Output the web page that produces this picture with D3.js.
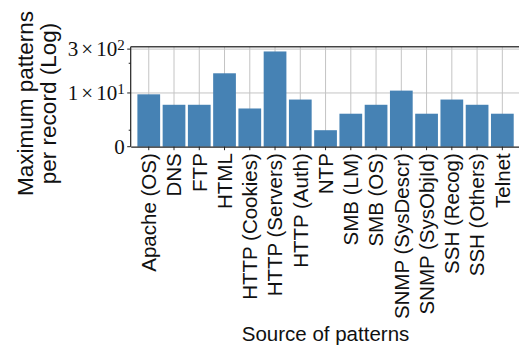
<!DOCTYPE html>
<html>
<head>
<meta charset="utf-8">
<script src="https://cdn.jsdelivr.net/npm/d3@7"></script>
<style>
  body { margin: 0; background: #fff; }
  svg { display: block; }
</style>
</head>
<body>
<svg id="chart" width="519" height="347"></svg>
<script>
// Data
const categories = [
    "Apache (OS)", "DNS", "FTP", "HTML", "HTTP (Cookies)", "HTTP (Servers)",
    "HTTP (Auth)", "NTP", "SMB (LM)", "SMB (OS)", "SNMP (SysDescr)",
    "SNMP (SysObjId)", "SSH (Recog)", "SSH (Others)", "Telnet"
];
const maxPatterns = [9, 4, 4, 46, 3, 250, 6, 1, 2, 4, 12, 2, 6, 4, 2];
const yMajorTicks = [0, 10, 300];
const yTickMantissa = ["0", "1", "3"];
const yTickExponent = [null, "1", "2"];
const yMinorTicks = [1, 100];

// matplotlib-style symlog (linthresh 2, linscale 1)
const linthresh = 2, linscaleAdj = 1 / (1 - 1 / 10);
function symlog(v) {
    return v <= linthresh ? v * linscaleAdj
        : linthresh * (linscaleAdj + Math.log10(v / linthresh));
}

const svg = d3.select("#chart"),
      plot = {left: 130.7, right: 520.4, top: 46.7, bottom: 146.7},
      sans = "'Liberation Sans', Arial, sans-serif",
      serif = "'Liberation Serif', 'Times New Roman', serif";

const x = d3.scaleBand()
    .domain(categories)
    .range([plot.left, plot.right])
    .paddingInner(0.1)
    .paddingOuter(0.265);

const yMax = symlog(d3.max(maxPatterns)) * 1.05;
const y = d3.scaleLinear()
    .domain([0, yMax])
    .range([plot.bottom, plot.top]);

// grid lines
const grid = svg.append("g").attr("stroke", "#c4c4c4").attr("stroke-width", 1);
grid.selectAll(".vg").data(categories).enter().append("line")
    .attr("x1", d => x(d) + x.bandwidth() / 2)
    .attr("x2", d => x(d) + x.bandwidth() / 2)
    .attr("y1", plot.top).attr("y2", plot.bottom);
grid.selectAll(".hg").data(yMajorTicks.slice(1)).enter().append("line")
    .attr("x1", plot.left).attr("x2", plot.right)
    .attr("y1", d => y(symlog(d))).attr("y2", d => y(symlog(d)));

// bars
svg.append("g").selectAll("rect")
    .data(maxPatterns)
    .enter().append("rect")
    .attr("x", (d, i) => x(categories[i]))
    .attr("y", d => y(symlog(d)))
    .attr("width", x.bandwidth())
    .attr("height", d => y(0) - y(symlog(d)))
    .attr("fill", "steelblue");

// x axis
const xAxis = svg.append("g")
    .attr("transform", `translate(0,${plot.bottom})`)
    .call(d3.axisBottom(x).tickSize(3.5).tickSizeOuter(0).tickPadding(4));
xAxis.select(".domain").attr("stroke", "#222").attr("stroke-width", 1.2);
xAxis.selectAll(".tick line").attr("stroke", "#222").attr("stroke-width", 1);
xAxis.selectAll(".tick text")
    .attr("font-family", sans)
    .attr("font-size", 20.5)
    .attr("fill", "#111")
    .attr("transform", "rotate(-90)")
    .attr("text-anchor", "end")
    .attr("x", -6.5)
    .attr("y", 0)
    .attr("dy", "0.36em");

// y axis
const yAxis = svg.append("g").attr("transform", `translate(${plot.left},0)`);
yAxis.append("line")
    .attr("y1", plot.top).attr("y2", plot.bottom)
    .attr("stroke", "#222").attr("stroke-width", 1.2);
yAxis.selectAll(".minor").data(yMinorTicks).enter().append("line")
    .attr("x1", -2).attr("x2", 0)
    .attr("y1", d => y(symlog(d))).attr("y2", d => y(symlog(d)))
    .attr("stroke", "#222");
const yt = yAxis.selectAll(".major").data(yMajorTicks).enter().append("g")
    .attr("transform", d => `translate(0,${y(symlog(d))})`);
yt.append("line").attr("x1", -3.5).attr("x2", 0).attr("stroke", "#222");
const ylab = yt.append("text")
    .attr("x", -6)
    .attr("dy", "0.35em")
    .attr("text-anchor", "end")
    .attr("font-family", serif)
    .attr("font-size", 21)
    .attr("fill", "#111");
ylab.append("tspan").text((d, i) => yTickMantissa[i]);
const withExp = ylab.filter((d, i) => yTickExponent[i]);
withExp.append("tspan").attr("dx", 3).text("×");
withExp.append("tspan").attr("dx", 3).text("10");
withExp.append("tspan")
    .attr("dy", "-0.45em")
    .attr("font-size", 15)
    .text(d => yTickExponent[yMajorTicks.indexOf(d)]);

// top and right spines
svg.append("line")
    .attr("x1", plot.left).attr("x2", plot.right)
    .attr("y1", plot.top).attr("y2", plot.top)
    .attr("stroke", "#444").attr("stroke-width", 1.6);
svg.append("line")
    .attr("x1", plot.right).attr("x2", plot.right)
    .attr("y1", plot.top).attr("y2", plot.bottom)
    .attr("stroke", "#444").attr("stroke-width", 1.2);

// axis titles
svg.append("text")
    .attr("x", (plot.left + plot.right) / 2)
    .attr("y", 340.5)
    .attr("text-anchor", "middle")
    .attr("font-family", sans)
    .attr("font-size", 20.5)
    .attr("fill", "#111")
    .text("Source of patterns");

const yTitle = svg.append("text")
    .attr("transform", `translate(0,103.5) rotate(-90)`)
    .attr("text-anchor", "middle")
    .attr("font-family", sans)
    .attr("font-size", 22.5)
    .attr("fill", "#111");
yTitle.append("tspan").attr("x", 0).attr("y", 32.5).text("Maximum patterns");
yTitle.append("tspan").attr("x", 0).attr("y", 55.5).text("per record (Log)");
</script>
</body>
</html>
